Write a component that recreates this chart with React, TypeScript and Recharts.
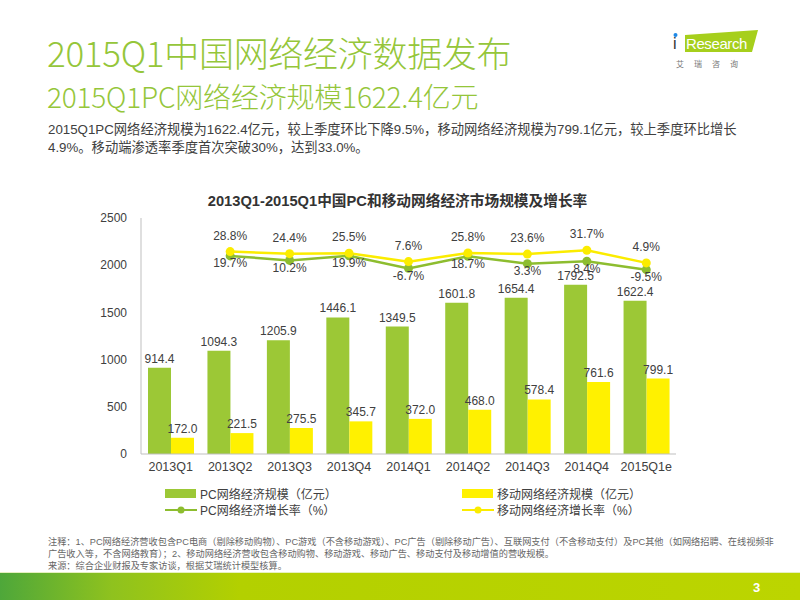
import {
  ComposedChart,
  Bar,
  Line,
  XAxis,
  YAxis,
  LabelList,
} from 'recharts'

const quarters = ['2013Q1', '2013Q2', '2013Q3', '2013Q4', '2014Q1', '2014Q2', '2014Q3', '2014Q4', '2015Q1e']
const pcScale = [914.4, 1094.3, 1205.9, 1446.1, 1349.5, 1601.8, 1654.4, 1792.5, 1622.4]
const mobileScale = [172.0, 221.5, 275.5, 345.7, 372.0, 468.0, 578.4, 761.6, 799.1]
const pcGrowth = [null, 19.7, 10.2, 19.9, -6.7, 18.7, 3.3, 8.4, -9.5]
const mobileGrowth = [null, 28.8, 24.4, 25.5, 7.6, 25.8, 23.6, 31.7, 4.9]
const scaleTicks = [0, 500, 1000, 1500, 2000, 2500]

const GREEN = '#9cc836'
const YELLOW = '#fff100'
const LINE_GREEN = '#8dbd2f'
const LINE_YELLOW = '#fbec00'
const TEXT = '#404040'
const FONT = '"Liberation Sans", "Noto Sans CJK SC", sans-serif'

const data = quarters.map((q, i) => ({
  q,
  pc: pcScale[i],
  mobile: mobileScale[i],
  pcRate: pcGrowth[i],
  mobileRate: mobileGrowth[i],
}))

const fmtNum = (v: any) => (v == null ? '' : Number(v).toFixed(1))
const fmtPct = (v: any) => (v == null ? '' : `${Number(v).toFixed(1)}%`)

function Logo() {
  return (
    <svg width={110} height={50} style={{ position: 'absolute', left: 664, top: 24 }}>
      <polygon points="21,11 94,6 88,28 21,28" fill="#a6cf1c" />
      <text x={9} y={25} fontSize={16} fontFamily={FONT} fill="#333">
        i
      </text>
      <circle cx={11.5} cy={11} r={2} fill="#1e88e5" />
      <text x={22} y={25} fontSize={15} fontFamily={FONT} fill="#fff" style={{ letterSpacing: -0.4 }}>
        Research
      </text>
      <text x={12} y={43} fontSize={8} fontFamily={FONT} fill="#777" style={{ letterSpacing: 10 }}>
        艾瑞咨询
      </text>
    </svg>
  )
}

function LegendRow() {
  const item = (left: number, top: number, color: string, label: string, line: boolean) => (
    <div style={{ position: 'absolute', left, top, display: 'flex', alignItems: 'center', fontFamily: FONT, fontSize: 12, color: TEXT }}>
      {line ? (
        <svg width={32} height={10} style={{ marginRight: 3 }}>
          <line x1={0} y1={5} x2={32} y2={5} stroke={color} strokeWidth={2} />
          <circle cx={16} cy={5} r={3.5} fill={color} />
        </svg>
      ) : (
        <div style={{ width: 31, height: 9, background: color, marginRight: 4 }} />
      )}
      <span>{label}</span>
    </div>
  )
  return (
    <>
      {item(165, 485, GREEN, 'PC网络经济规模（亿元）', false)}
      {item(462, 485, YELLOW, '移动网络经济规模（亿元）', false)}
      {item(165, 501, LINE_GREEN, 'PC网络经济增长率（%）', true)}
      {item(462, 501, LINE_YELLOW, '移动网络经济增长率（%）', true)}
    </>
  )
}

export default function App() {
  return (
    <div style={{ position: 'absolute', left: 0, top: 0, width: 800, height: 600, background: '#fff', overflow: 'hidden', fontFamily: FONT }}>
      <div style={{ position: 'absolute', left: 47, top: 26, fontSize: 35, color: '#95c63a', fontWeight: 300, whiteSpace: 'nowrap', fontFamily: '"Noto Sans CJK SC", sans-serif', letterSpacing: -0.3 }}>
        2015Q1中国网络经济数据发布
      </div>
      <div style={{ position: 'absolute', left: 47, top: 76, fontSize: 28, color: '#95c63a', fontWeight: 300, whiteSpace: 'nowrap', fontFamily: '"Noto Sans CJK SC", sans-serif', letterSpacing: -0.2 }}>
        2015Q1PC网络经济规模1622.4亿元
      </div>
      <div style={{ position: 'absolute', left: 48, top: 121, fontSize: 13.3, color: TEXT, lineHeight: '18px', whiteSpace: 'nowrap' }}>
        2015Q1PC网络经济规模为1622.4亿元，较上季度环比下降9.5%，移动网络经济规模为799.1亿元，较上季度环比增长
        <br />
        4.9%。移动端渗透率季度首次突破30%，达到33.0%。
      </div>
      <Logo />
      <div style={{ position: 'absolute', left: 0, width: 795, top: 189, textAlign: 'center', fontSize: 14.7, fontWeight: 'bold', color: '#333', whiteSpace: 'nowrap' }}>
        2013Q1-2015Q1中国PC和移动网络经济市场规模及增长率
      </div>
      <div style={{ position: 'absolute', left: 0, top: 180 }}>
        <ComposedChart
          width={800}
          height={310}
          data={data}
          margin={{ top: 38, right: 124, bottom: 6, left: 101 }}
          barGap={0}
        >
          <XAxis
            dataKey="q"
            height={30}
            tickLine={false}
            axisLine={{ stroke: '#bfbfbf' }}
            tick={{ fill: TEXT, fontSize: 12.5, fontFamily: FONT }}
            interval={0}
          />
          <YAxis
            yAxisId="left"
            width={40}
            domain={[0, 2500]}
            ticks={scaleTicks}
            tickLine={false}
            tickMargin={8}
            axisLine={{ stroke: '#bfbfbf' }}
            tick={{ fill: TEXT, fontSize: 12, fontFamily: FONT }}
          />
          <YAxis yAxisId="right" orientation="right" hide domain={[-400, 100]} />
          <Bar yAxisId="left" dataKey="pc" fill={GREEN} barSize={23} isAnimationActive={false}>
            <LabelList dataKey="pc" position="top" offset={5} formatter={fmtNum} fill={TEXT} fontSize={12} fontFamily={FONT} />
          </Bar>
          <Bar yAxisId="left" dataKey="mobile" fill={YELLOW} barSize={23} isAnimationActive={false}>
            <LabelList dataKey="mobile" position="top" offset={5} formatter={fmtNum} fill={TEXT} fontSize={12} fontFamily={FONT} />
          </Bar>
          <Line
            yAxisId="right"
            dataKey="pcRate"
            stroke={LINE_GREEN}
            strokeWidth={2.5}
            dot={{ r: 4.5, fill: LINE_GREEN, stroke: LINE_GREEN, strokeWidth: 0 }}
            isAnimationActive={false}
          >
            <LabelList dataKey="pcRate" position="bottom" offset={3} formatter={fmtPct} fill={TEXT} fontSize={12} fontFamily={FONT} />
          </Line>
          <Line
            yAxisId="right"
            dataKey="mobileRate"
            stroke={LINE_YELLOW}
            strokeWidth={2.5}
            dot={{ r: 4.5, fill: LINE_YELLOW, stroke: LINE_YELLOW, strokeWidth: 0 }}
            isAnimationActive={false}
          >
            <LabelList dataKey="mobileRate" position="top" offset={12} formatter={fmtPct} fill={TEXT} fontSize={12} fontFamily={FONT} />
          </Line>
        </ComposedChart>
      </div>
      <LegendRow />
      <div style={{ position: 'absolute', left: 48, top: 536, fontSize: 9.2, color: '#666', lineHeight: '12px', whiteSpace: 'nowrap' }}>
        注释：1、PC网络经济营收包含PC电商（剔除移动购物）、PC游戏（不含移动游戏）、PC广告（剔除移动广告）、互联网支付（不含移动支付）及PC其他（如网络招聘、在线视频非
        <br />
        广告收入等，不含网络教育）；2、移动网络经济营收包含移动购物、移动游戏、移动广告、移动支付及移动增值的营收规模。
        <br />
        来源：综合企业财报及专家访谈，根据艾瑞统计模型核算。
      </div>
      <div style={{ position: 'absolute', left: 0, top: 573, width: 800, height: 27, background: 'linear-gradient(90deg, #4ea73a 0%, #8fc21e 14%, #b3d000 30%, #bcd500 100%)' }} />
      <div style={{ position: 'absolute', left: 0, top: 572, width: 800, height: 1, background: '#e6f0c0' }} />
      <div style={{ position: 'absolute', left: 753, top: 580, fontSize: 13, fontWeight: 'bold', color: '#fff' }}>3</div>
    </div>
  )
}
